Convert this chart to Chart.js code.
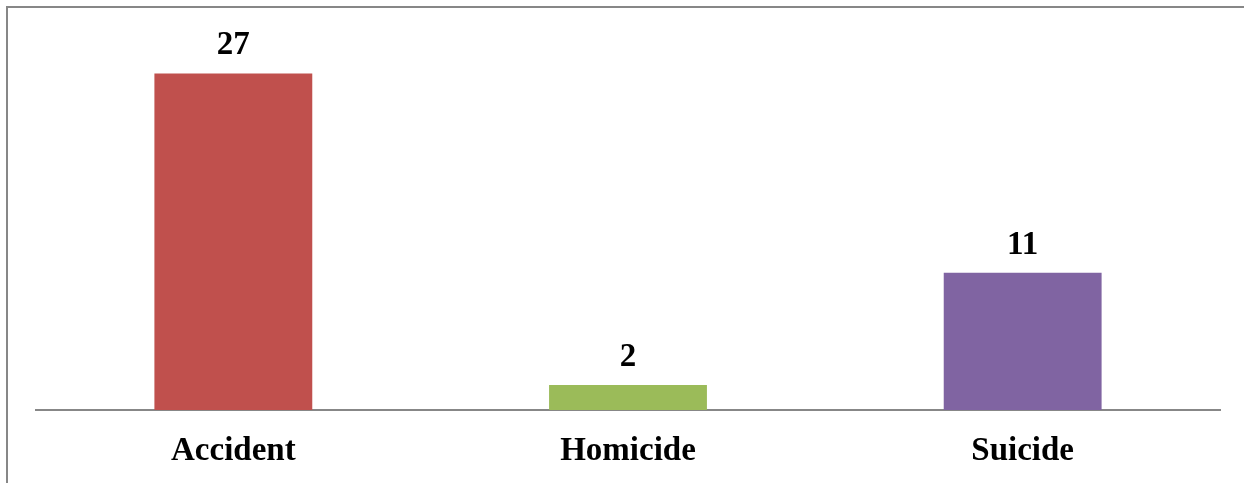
<!DOCTYPE html>
<html>
<head>
<meta charset="utf-8">
<script src="https://cdn.jsdelivr.net/npm/chart.js@4"></script>
<style>
  html, body { margin: 0; padding: 0; background: #fff; }
  #wrap { position: relative; width: 1244px; height: 483px; overflow: hidden; }
  #frame {
    position: absolute; left: 6px; top: 6px; right: -10px; bottom: -10px;
    border-left: 2px solid #878787; border-top: 2px solid #878787;
    pointer-events: none;
  }
  canvas { position: absolute; left: 0; top: 0; }
</style>
</head>
<body>
<div id="wrap">
  <canvas id="chart" width="1244" height="483"></canvas>
  <div id="frame"></div>
</div>
<script>
// ─── DATA ─────────────────────────────────────────────
const categories = ['Accident', 'Homicide', 'Suicide'];
const counts     = [27, 2, 11];
const barColors  = ['#C0504D', '#9BBB59', '#8064A2'];

const LABEL_FONT = { family: "'Liberation Serif', 'DejaVu Serif', serif", size: 33, weight: 'bold' };

// value labels above each bar
const valueLabels = {
  id: 'valueLabels',
  afterDatasetsDraw(chart) {
    const { ctx } = chart;
    const meta = chart.getDatasetMeta(0);
    ctx.save();
    ctx.font = `bold ${LABEL_FONT.size}px ${LABEL_FONT.family}`;
    ctx.fillStyle = '#000';
    ctx.textAlign = 'center';
    ctx.textBaseline = 'alphabetic';
    meta.data.forEach((bar, i) => {
      ctx.fillText(String(counts[i]), bar.x, bar.y - 19);
    });
    ctx.restore();
  }
};

new Chart(document.getElementById('chart'), {
  type: 'bar',
  data: {
    labels: categories,
    datasets: [{
      data: counts,
      backgroundColor: barColors,
      borderWidth: 0,
      categoryPercentage: 1,
      barPercentage: 0.4
    }]
  },
  options: {
    responsive: false,
    animation: false,
    layout: { padding: { left: 36, right: 24, top: 36, bottom: 0 } },
    plugins: { legend: { display: false }, tooltip: { enabled: false } },
    scales: {
      x: {
        grid: { display: false, drawTicks: false },
        border: { display: true, color: '#878787', width: 2 },
        ticks: { color: '#000', font: LABEL_FONT, padding: 22 },
        afterFit(scale) { scale.height = 73; }
      },
      y: {
        display: false,
        min: 0,
        max: 30
      }
    }
  },
  plugins: [valueLabels]
});
</script>
</body>
</html>
